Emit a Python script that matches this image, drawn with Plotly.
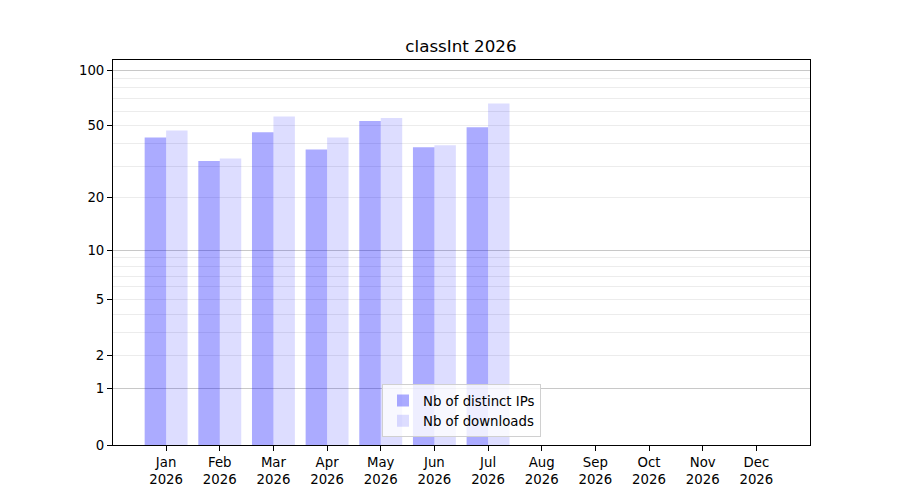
import math
import plotly.graph_objects as go

# monthly counts (Aug-Dec have no data yet)
months = ["Jan", "Feb", "Mar", "Apr", "May", "Jun",
          "Jul", "Aug", "Sep", "Oct", "Nov", "Dec"]
year = "2026"
distinct_ips = [43, 32, 46, 37, 53, 38, 49, 0, 0, 0, 0, 0]
downloads = [47, 33, 56, 43, 55, 39, 66, 0, 0, 0, 0, 0]

# y axis is log10(1 + count): plot 1 + count on a log axis
y_labels = [0, 1, 2, 5, 10, 20, 50, 100]
major_grid = [1, 10, 100]
minor_grid = [2, 3, 4, 5, 6, 7, 8, 9, 20, 30, 40, 50, 60, 70, 80, 90]
y_top = 113.3


def shift(values):
    return [v + 1 for v in values]


def main():
    x = list(range(len(months)))
    font = dict(family="DejaVu Sans", size=13.3, color="black")

    fig = go.Figure()
    fig.add_trace(go.Bar(x=x, y=shift(distinct_ips), name="Nb of distinct IPs",
                         marker=dict(color="rgba(0,0,255,0.33)", line_width=0)))
    fig.add_trace(go.Bar(x=x, y=shift(downloads), name="Nb of downloads",
                         marker=dict(color="rgba(0,0,255,0.135)", line_width=0)))
    # dummy trace so the overlay axis carrying the darker grid lines is drawn
    fig.add_trace(go.Scatter(x=[0], y=[None], yaxis="y2", showlegend=False,
                             hoverinfo="skip", mode="markers"))

    yrange = [0, math.log10(y_top + 1)]

    # the page body adds an 8px offset, so margins are trimmed to suit
    fig.update_layout(
        width=900, height=500,
        paper_bgcolor="white", plot_bgcolor="white",
        margin=dict(l=105, r=98, t=52, b=63),
        font=font,
        title=dict(text="classInt 2026", xref="container", x=0.5033,
                   xanchor="center", yref="container", y=0.924,
                   yanchor="middle",
                   font=dict(family="DejaVu Sans", size=16.7)),
        barmode="group", bargap=0.2, bargroupgap=0,
        xaxis=dict(range=[-0.99, 12.0], tickmode="array", tickvals=x,
                   ticktext=[m + "<br>" + year for m in months],
                   ticks="outside", ticklen=5, tickcolor="black",
                   showline=True, linecolor="black", linewidth=1, mirror=True,
                   showgrid=False, zeroline=False),
        yaxis=dict(type="log", range=yrange, tickmode="array",
                   tickvals=shift(y_labels), ticktext=[str(v) for v in y_labels],
                   ticks="outside", ticklen=5, tickcolor="black",
                   showline=True, linecolor="black", linewidth=1, mirror=True,
                   showgrid=False, zeroline=False,
                   minor=dict(tickmode="array", tickvals=shift(minor_grid),
                              showgrid=True, gridcolor="#ececec", gridwidth=1,
                              ticks="")),
        yaxis2=dict(type="log", range=yrange, overlaying="y", side="left",
                    tickmode="array", tickvals=shift(major_grid),
                    showticklabels=False, ticks="", showline=False,
                    showgrid=True, gridcolor="#c8c8c8", gridwidth=1,
                    zeroline=False),
        legend=dict(x=0.5, y=0.02, xanchor="center", yanchor="bottom",
                    bgcolor="rgba(255,255,255,0.8)", bordercolor="#d0d0d0",
                    borderwidth=1, font=font, tracegroupgap=0),
        showlegend=True,
    )

    fig.write_html("out.html")


if __name__ == "__main__":
    main()
